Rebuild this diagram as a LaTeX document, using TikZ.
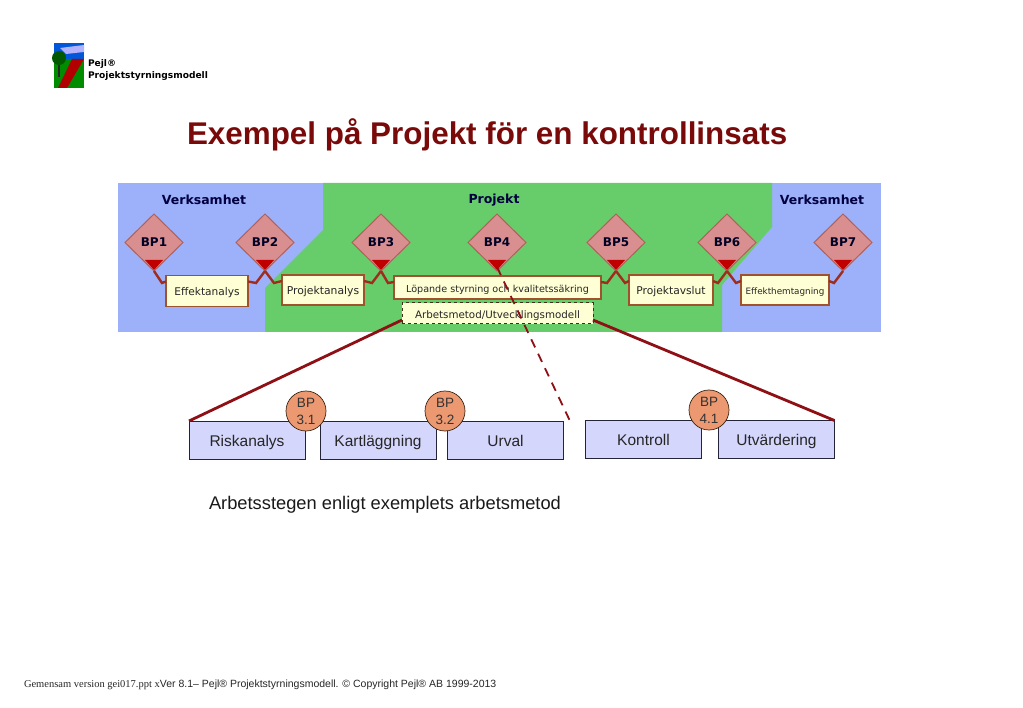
\documentclass[tikz,border=0pt]{standalone}
\usepackage{fontspec}
\setmainfont{Liberation Sans}
\newfontfamily\bandfont{DejaVu Sans}
\newfontfamily\footfont{Liberation Serif}
\usetikzlibrary{shapes.geometric}
\definecolor{bandblue}{HTML}{9DB0FA}
\definecolor{bandgreen}{HTML}{66CD6A}
\definecolor{bpfill}{HTML}{D98F8F}
\definecolor{bpline}{HTML}{B0605A}
\definecolor{linkred}{HTML}{A02C1E}
\definecolor{tipred}{HTML}{C00000}
\definecolor{paleyellow}{HTML}{FFFFD6}
\definecolor{boxline}{HTML}{A0522D}
\definecolor{stepblue}{HTML}{D4D6FC}
\definecolor{stepline}{HTML}{23233A}
\definecolor{roundfill}{HTML}{EC9870}
\definecolor{titlered}{HTML}{7A0A0A}
\definecolor{bigred}{HTML}{8E0F14}
\begin{document}
\begin{tikzpicture}[
        x=1pt, y=-1pt,
        every node/.style={inner sep=0pt, outer sep=0pt},
        bp/.style={diamond, draw=bpline, line width=1pt, fill=bpfill, minimum width=58pt, minimum height=57pt, font=\bandfont\bfseries\fontsize{12}{12}\selectfont, text=black!85!blue}, % Process milestone
        head/.style={font=\bandfont\bfseries\fontsize{12.5}{12.5}\selectfont, text=black!75!blue},
        phase/.style={draw=boxline, line width=1.2pt, fill=paleyellow, text height=9.4pt, text depth=0pt, font=\bandfont\fontsize{#1}{10}\selectfont, text=black!85},
        link/.style={draw=linkred, line width=2.4pt},
        stepbox/.style={draw=stepline, line width=0.7pt, fill=stepblue, minimum width=116pt, minimum height=38pt, text height=13pt, text depth=0pt, font=\fontsize{15.5}{16}\selectfont, text=black!85},
        subbp/.style={circle, draw=black!70!brown, line width=0.7pt, fill=roundfill, minimum size=40pt, align=center, font=\fontsize{13.5}{17}\selectfont, text=black!80}, % Small circle on the steps
        wedge/.style={line width=2.8pt, draw=bigred},
    ]
    \useasboundingbox (0,0) rectangle (1023,708);

    % Logo
    \fill[blue!60!cyan!85!black] (54,43) rectangle (84,59);
    \fill[white!70!blue] (60,48) -- (84,45) -- (84,52) -- (66,54) -- cycle;
    \fill[green!55!black] (54,59) rectangle (84,88);
    \fill[red!70!black] (72,59) -- (84,59) -- (67,88) -- (58,88) -- cycle;
    \fill[black!85] (58,60) rectangle (60,77);
    \fill[green!35!black] (59,58) circle (7);
    \node[anchor=west, align=left, font=\bandfont\bfseries\fontsize{9.1}{12}\selectfont] (logotext) at (88,70) {Pejl®\\Projektstyrningsmodell};

    \node[anchor=west, font=\bfseries\fontsize{31.4}{32}\selectfont, text=titlered] (title) at (187,135) {Exempel på Projekt för en kontrollinsats};

    % Band
    \fill[bandblue] (118,183) rectangle (881,332);
    \fill[bandgreen] (323,183) -- (772,183) -- (772,227) -- (722,285) -- (722,332) -- (265,332) -- (265,288) -- (323,230) -- cycle;
    \node[head] (verks1) at (204,200) {Verksamhet};
    \node[head] (proj) at (494,200) {Projekt};
    \node[head] (verks2) at (822,200) {Verksamhet};

    \foreach \nr/\xpos in {1/154, 2/265, 3/381, 4/497, 5/616, 6/727, 7/843} {
        \node[bp] (bp\nr) at (\xpos,242.5) {BP\nr};
    }

    \node[phase=10.6, minimum width=82pt, minimum height=31pt] (effekt) at (207,291) {Effektanalys};
    \node[phase=10.8, minimum width=82pt, minimum height=30pt] (projanalys) at (323,290) {Projektanalys};
    \node[phase=9.6, minimum width=207pt, minimum height=23pt] (lopande) at (497.5,287.5) {Löpande styrning och kvalitetssäkring};
    \node[phase=10.7, minimum width=84pt, minimum height=30pt] (avslut) at (671,290) {Projektavslut};
    \node[phase=8.8, minimum width=88pt, minimum height=30pt] (hemtagning) at (785,290) {Effekthemtagning};
    \node[phase=10.3, dashed, draw=black!65!brown, line width=1pt, minimum width=191pt, minimum height=21pt] (metod) at (497.5,313.5) {Arbetsmetod/Utvecklingsmodell};

    % Links up to the milestones
    \draw[link] (bp1.south) -- ++(8,12) -- ([yshift=-6pt]effekt.north west);
    \draw[link] (bp2.south) -- ++(-9,12) -- ([yshift=-6pt]effekt.north east);
    \draw[link] (bp2.south) -- ++(9,12) -- ([yshift=-6pt]projanalys.north west);
    \draw[link] (bp3.south) -- ++(-9,12) -- ([yshift=-6pt]projanalys.north east);
    \draw[link] (bp3.south) -- ++(7,12) -- ([yshift=-6pt]lopande.north west);
    \draw[link] (bp5.south) -- ++(-9,12) -- ([yshift=-6pt]lopande.north east);
    \draw[link] (bp5.south) -- ++(9,12) -- ([yshift=-6pt]avslut.north west);
    \draw[link] (bp6.south) -- ++(-9,12) -- ([yshift=-6pt]avslut.north east);
    \draw[link] (bp6.south) -- ++(9,12) -- ([yshift=-6pt]hemtagning.north west);
    \draw[link] (bp7.south) -- ++(-9,12) -- ([yshift=-6pt]hemtagning.north east);

    \foreach \nr in {1,...,7} {
        \fill[tipred] ([shift={(-9pt,11pt)}]bp\nr.south) -- ([shift={(9pt,11pt)}]bp\nr.south) -- ([yshift=1pt]bp\nr.south) -- cycle;
    }

    % Steps
    \node[stepbox] (risk) at (247,440) {Riskanalys};
    \node[stepbox] (kart) at (378,440) {Kartläggning};
    \node[stepbox] (urval) at (505.5,440) {Urval};
    \node[stepbox] (kontroll) at (643.5,439.5) {Kontroll};
    \node[stepbox] (utvard) at (776.5,439.5) {Utvärdering};
    \node[subbp] (bp31) at (306,411) {BP\\ 3.1};
    \node[subbp] (bp32) at (445,411) {BP\\ 3.2};
    \node[subbp] (bp41) at (709,410) {BP\\ 4.1};

    \coordinate (dashend) at (570,421);
    \draw[wedge] ([yshift=4pt]metod.south west) -- (risk.north west);
    \draw[wedge] ([yshift=4pt]metod.south east) -- (utvard.north east);
    \draw[draw=bigred, line width=1.8pt, dash pattern=on 9pt off 7pt] ([yshift=4pt]bp4.south) -- (dashend);

    \node[anchor=west, font=\fontsize{18.3}{19}\selectfont, text=black!90] (caption) at (209,505) {Arbetsstegen enligt exemplets arbetsmetod};
    \node[anchor=west, font=\fontsize{10.5}{11}\selectfont, text=black!85] (foot) at (24,685) {{\footfont Gemensam version gei017.ppt x}Ver 8.1-- Pejl® Projektstyrningsmodell. © Copyright Pejl® AB 1999-2013};
\end{tikzpicture}
\end{document}
